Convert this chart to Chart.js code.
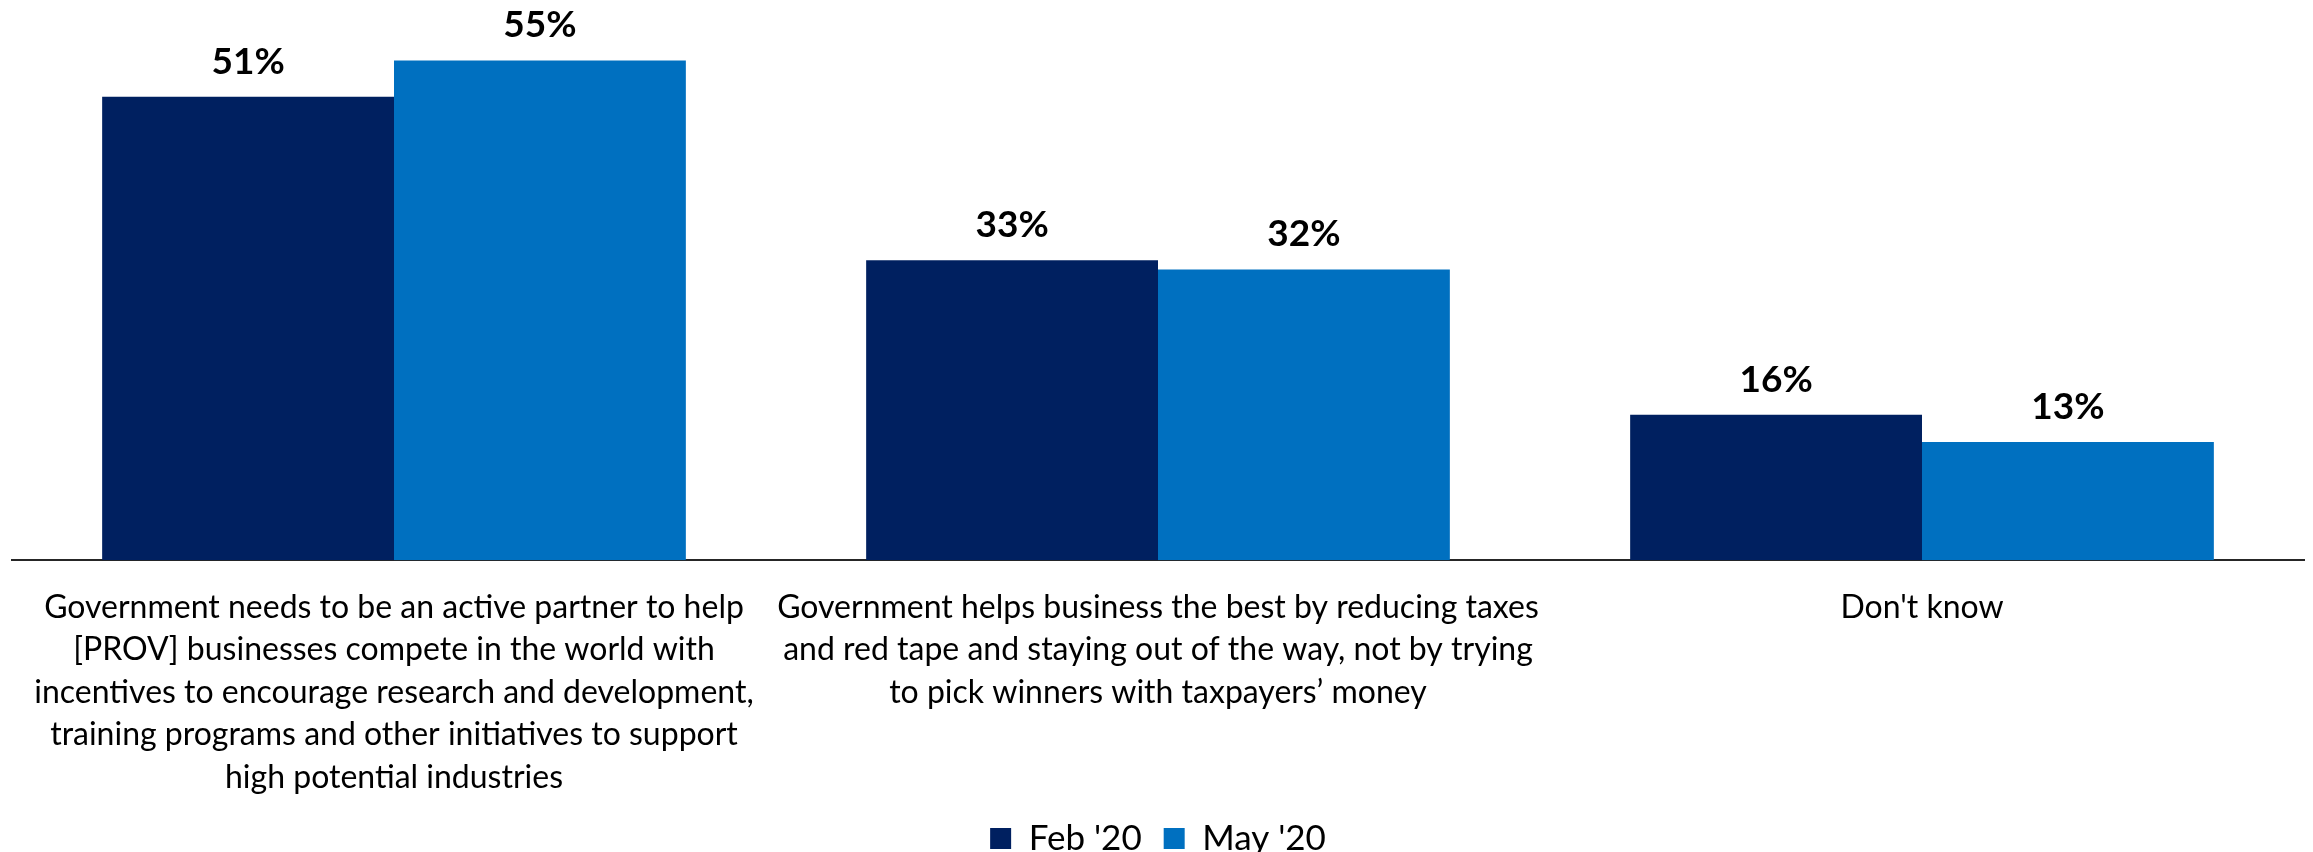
<!DOCTYPE html>
<html>
<head>
<meta charset="utf-8">
<script src="https://cdn.jsdelivr.net/npm/chart.js@4/dist/chart.umd.min.js"></script>
<style>
  body { margin: 0; background: #fff; }
  #wrap { width: 2313px; height: 852px; }
</style>
</head>
<body>
<div id="wrap"><canvas id="chart"></canvas></div>
<script>
// categories (each one split into lines the way the picture wraps them)
const categories = [
    ['Government needs to be an active partner to help',
     '[PROV] businesses compete in the world with',
     'incentives to encourage research and development,',
     'training programs and other initiatives to support',
     'high potential industries'],
    ['Government helps business the best by reducing taxes',
     'and red tape and staying out of the way, not by trying',
     'to pick winners with taxpayers\u2019 money'],
    ["Don't know"]
]

const seriesNames = ["Feb '20", "May '20"]
const feb20 = [51, 33, 16]
const may20 = [55, 32, 13]

const FONT = 'Lato, "Open Sans", sans-serif'
const TICK_PAD = 26

// draws the "51%" style labels above each bar
const valueLabels = {
    id: 'valueLabels',
    afterDatasetsDraw(chart) {
        const ctx = chart.ctx
        ctx.save()
        ctx.font = 'bold 37px ' + FONT
        ctx.fillStyle = '#000'
        ctx.textAlign = 'center'
        ctx.textBaseline = 'alphabetic'
        chart.data.datasets.forEach((ds, i) => {
            chart.getDatasetMeta(i).data.forEach((bar, j) => {
                ctx.fillText(ds.data[j] + '%', bar.x, bar.y - 23)
            })
        })
        ctx.restore()
    }
}

new Chart(document.getElementById('chart'), {
    type: 'bar',
    data: {
        labels: categories,
        datasets: [
            {
                label: seriesNames[0],
                data: feb20,
                backgroundColor: '#002060'
            },
            {
                label: seriesNames[1],
                data: may20,
                backgroundColor: '#0070C0'
            }
        ]
    },
    options: {
        responsive: true,
        maintainAspectRatio: false,
        animation: false,
        layout: {
            padding: { left: 12, right: 9, top: 15, bottom: -14 }
        },
        datasets: {
            bar: {
                categoryPercentage: 0.764,
                barPercentage: 1.0
            }
        },
        scales: {
            x: {
                grid: { display: false, drawTicks: false },
                border: { display: true, color: '#262626', width: 2 },
                ticks: {
                    color: '#000',
                    padding: TICK_PAD,
                    maxRotation: 0,
                    autoSkip: false,
                    font: { family: FONT, size: 32, lineHeight: 1.33 }
                },
                // no extra gap below the category labels
                afterFit: (scale) => { scale.height -= TICK_PAD }
            },
            y: {
                display: false,
                min: 0,
                max: 60
            }
        },
        plugins: {
            legend: {
                position: 'bottom',
                labels: {
                    color: '#000',
                    boxWidth: 21,
                    boxHeight: 21,
                    padding: 22,
                    font: { family: FONT, size: 35 }
                }
            },
            tooltip: { enabled: false }
        }
    },
    plugins: [valueLabels]
})
</script>
</body>
</html>
